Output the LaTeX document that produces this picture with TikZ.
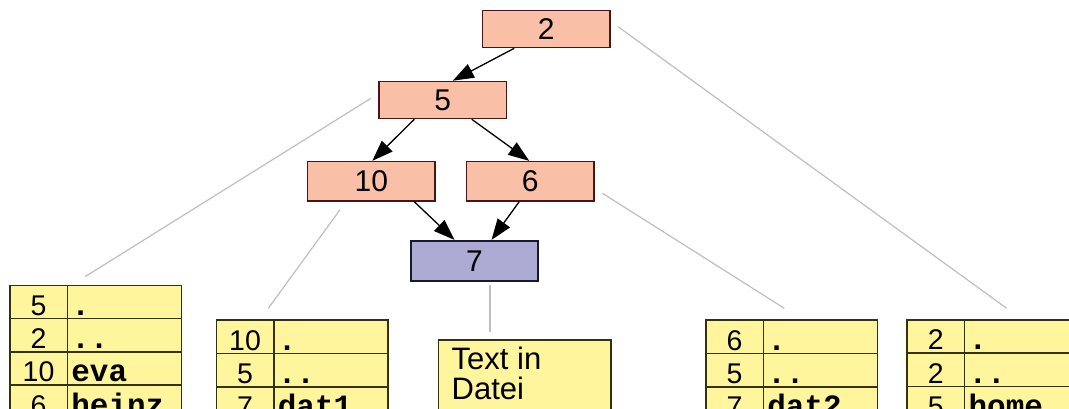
\documentclass[tikz,border=0pt]{standalone}
\usepackage{fontspec}
\setmainfont{Liberation Sans}
\setmonofont{Liberation Mono}
\usetikzlibrary{arrows.meta}
\definecolor{salmonfill}{RGB}{249,191,167}
\definecolor{salmonline}{RGB}{72,22,22}
\definecolor{purplefill}{RGB}{173,170,211}
\definecolor{purpleline}{RGB}{24,24,48}
\definecolor{yellowfill}{RGB}{255,245,156}
\definecolor{tableline}{RGB}{50,50,14}
\definecolor{greyline}{RGB}{190,190,190}
\newcommand{\dotone}{.}
\newcommand{\dottwo}{..}
\newcommand{\mkdirtable}[4]{%
  \foreach \nm/\fn [count=\i from 0] in {#4} {
    \node[numcell] (#1-n\i) at (#2,#3+\i*33.3) {\nm};
    \node[namecell] (#1-f\i) at (#2+57.5,#3+\i*33.3) {\fn};
  }
}
\begin{document}
\begin{tikzpicture}[x=1pt,y=-1pt,
  treebox/.style={rectangle, draw=salmonline, fill=salmonfill, line width=1.6pt,
    minimum width=127.5pt, minimum height=37pt, inner sep=0pt, text depth=0pt,
    font=\fontsize{30}{30}\selectfont},
  filebox/.style={treebox, draw=purpleline, fill=purplefill, minimum height=40pt},
  numcell/.style={rectangle, draw=tableline, fill=yellowfill, line width=1.6pt,
    anchor=north west, minimum width=57.5pt, inner xsep=0pt, inner ysep=0pt,
    text height=30pt, text depth=3.3pt, font=\fontsize{28.5}{28.5}\selectfont},
  namecell/.style={rectangle, draw=tableline, fill=yellowfill, line width=1.6pt,
    anchor=north west, inner xsep=4pt, inner ysep=0pt, text width=106pt, align=left,
    text height=30pt, text depth=3.3pt, font=\fontsize{31}{31}\selectfont\ttfamily\bfseries},
  textbox/.style={rectangle, draw=tableline, fill=yellowfill, line width=1.6pt,
    anchor=north west, minimum width=172.3pt, minimum height=100pt, inner sep=0pt},
  plaintext/.style={anchor=base west, inner sep=0pt, font=\fontsize{31}{31}\selectfont},
  arr/.style={line width=1.3pt, -{Triangle[length=21pt,width=15pt]}},
  link/.style={draw=greyline, line width=1.2pt}
]
\useasboundingbox (0,0) rectangle (1069,409);
\clip (0,0) rectangle (1069,409);

% tree nodes
\node[treebox] (n2) at (546.2,29) {2};
\node[treebox] (n5) at (442.8,100) {5};
\node[treebox, minimum height=39.3pt] (n10) at (371.3,181.3) {10};
\node[treebox, minimum height=39.3pt] (n6) at (530.2,181.3) {6};
\node[filebox] (n7) at (474.5,260.7) {7};

% arrows
\draw[arr] ([xshift=-32pt]n2.south) -- ([xshift=10pt]n5.north);
\draw[arr] ([xshift=-28.5pt]n5.south) -- ([xshift=1pt]n10.north);
\draw[arr] ([xshift=29pt]n5.south) -- ([xshift=-1pt]n6.north);
\draw[arr] ([xshift=43pt]n10.south) -- ([xshift=-20pt]n7.north);
\draw[arr] ([xshift=-11pt]n6.south) -- ([xshift=17pt]n7.north);

% directory tables
\mkdirtable{root}{906.3}{319}{2/\dotone, 2/\dottwo, 5/home}
\mkdirtable{home}{9}{284.5}{5/\dotone, 2/\dottwo, 10/eva, 6/heinz}
\mkdirtable{eva}{215.5}{319.3}{10/\dotone, 5/\dottwo, 7/dat1}
\mkdirtable{heinz}{705}{319.3}{6/\dotone, 5/\dottwo, 7/dat2}

% file content
\node[textbox] (file) at (437.7,339) {};
\node[plaintext] (fileline1) at (451.5,369) {Text in};
\node[plaintext] (fileline2) at (451.5,399) {Datei};

% free ends of grey links
\coordinate (endroot) at (1006.7,308.3);
\coordinate (endhome) at (85,276.7);
\coordinate (endeva) at (268.3,308.3);
\coordinate (endheinz) at (784.3,308.3);
\coordinate (endfile) at (490,332.3);

\draw[link] ([shift={(7.3,-2.3)}]n2.east) -- (endroot);
\draw[link] ([shift={(-7.3,-1.7)}]n5.west) -- (endhome);
\draw[link] ([shift={(-31.3,8)}]n10.south) -- (endeva);
\draw[link] ([shift={(7.7,12)}]n6.east) -- (endheinz);
\draw[link] ([shift={(15.5,3.3)}]n7.south) -- (endfile);
\end{tikzpicture}
\end{document}
